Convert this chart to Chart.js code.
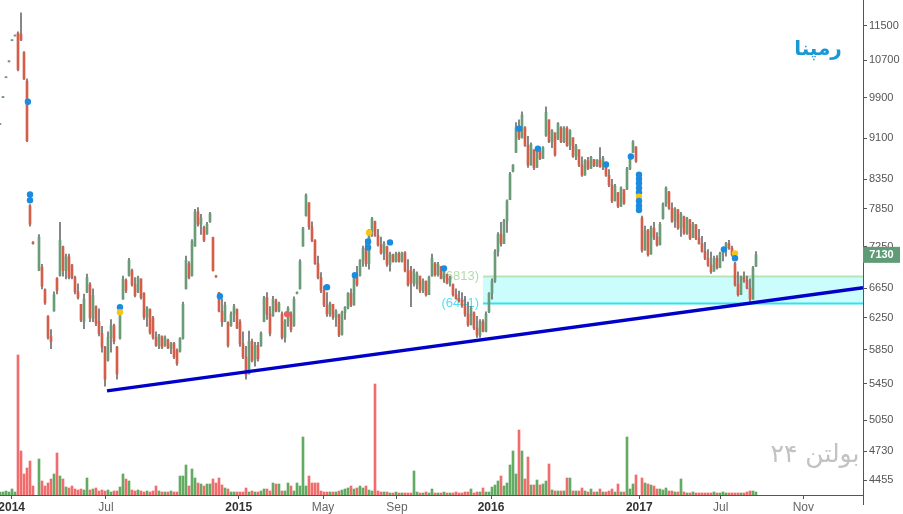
<!DOCTYPE html>
<html><head><meta charset="utf-8">
<script src="https://cdn.jsdelivr.net/npm/chart.js@4"></script>
<style>html,body{margin:0;padding:0;background:#fff;overflow:hidden}#wrap{width:903px;height:514px;position:relative}</style>
</head><body><div id="wrap"><canvas id="c" width="903" height="514"></canvas></div>
<script>
// ---- data (trading-day slot index, prices in rials) ----
const slots = [0,1,2,3,4,5,6,7,8,9,10,11,
13,14,15,16,17,18,19,20,21,22,23,24,25,26,27,28,29,30,31,32,33,34,35,36,37,38,39,40,41,42,43,44,45,46,47,48,49,50,51,52,
53,54,55,56,57,58,59,60,61,62,63,64,65,66,67,68,69,70,71,72,73,74,75,76,77,78,79,80,81,82,83,84,85,86,87,88,89,90,91,92,
93,94,95,96,97,98,99,100,101,102,103,104,105,106,107,108,109,110,111,112,113,114,115,116,117,118,119,120,121,122,
123,124,125,126,127,128,129,130,131,132,133,134,135,136,137,138,139,140,141,142,143,144,145,146,147,148,149,150,151,152,
153,154,155,156,157,158,159,160,161,162,163,164,165,166,167,168,169,170,171,172,173,174,175,176,177,178,179,180,181,182,
183,184,185,186,187,188,189,190,191,192,193,194,195,196,197,198,199,200,201,202,203,204,205,206,207,208,209,210,211,212,
214,215,216,217,218,219,220,221,222,223,224,225,226,227,228,229,230,231,232,233,234,235,236,237,238,239,240,241,242,243,
244,245,246,247,248,249,250,251,252];
const opens = [9360,9900,10320,10670,11150,11260,11330,11300,10880,10250,7900,7320,
6900,6950,6630,6270,6010,6340,6790,6830,7250,6900,
7100,6980,6800,6600,6430,6200,6600,6700,6250,6400,
6200,6050,5880,5720,6000,6150,5880,5990,6500,6760,
6830,6900,6700,6600,6780,6580,6260,6360,6250,6000,
5900,6010,5900,5970,5870,5930,5840,5830,5990,6640,
7000,6830,7260,7800,7600,7550,7450,7640,7390,6820,
6590,6340,6200,6190,6150,6300,6360,6200,5920,5760,
5560,5950,5720,5900,5900,6200,6520,6300,6280,6480,
6340,6300,6000,6200,6300,6150,6580,6640,7260,7740,
7950,7560,7350,7000,6800,6620,6420,6300,6430,6260,
6290,6040,6320,6380,6580,6420,6820,6830,7050,7230,
7000,7480,7640,7420,7280,7150,7250,6990,7130,7030,
7150,7040,7160,6900,6900,6720,6700,6820,6620,6750,
6560,6820,7000,6840,6960,6790,6840,6720,6700,6560,
6510,6480,6410,6300,6160,6320,6120,6030,6200,6080,
6330,6580,6750,7180,7440,7300,7650,8000,8490,8830,
9300,9100,9300,8960,8600,8880,8560,8860,8720,9150,
9450,9030,9200,9080,9300,9030,9290,8960,9100,8760,
8880,8600,8420,8680,8540,8700,8590,8690,8570,8640,
8420,8250,7980,8120,7890,8170,8180,8530,8830,8930,
7700,7200,7500,7140,7540,7400,7280,7690,7930,8130,
7860,7650,7830,7540,7720,7460,7670,7390,7590,7380,
7300,7180,7080,6980,6890,7080,6940,7150,7230,7300,
7230,7000,6700,6560,6800,6760,6650,6500,6960];
const highs = [9360,9900,10320,10670,11150,11260,11360,11820,10900,10300,7920,7330,
7440,6990,6640,6280,6100,6600,6800,7630,7260,7140,
7140,6990,6820,6710,6430,6570,6850,6730,6640,6410,
6370,6140,5890,6070,6230,6170,5890,6300,6820,6780,
7080,6920,6800,6820,6780,6590,6400,6370,6270,6070,
6040,6020,6020,5980,5940,5940,5860,6000,6460,7110,
7030,7360,7840,7870,7760,7570,7630,7790,7400,6830,
6590,6500,6460,6200,6330,6430,6370,6230,6070,5890,
6080,5980,5940,5940,6070,6540,6590,6400,6540,6500,
6460,6330,6230,6400,6330,6530,6600,7060,7550,8100,
7950,7640,7360,7110,6870,6680,6590,6460,6430,6360,
6300,6340,6400,6590,6640,6850,6960,7060,7260,7360,
7520,7710,7650,7520,7400,7330,7260,7170,7140,7170,
7170,7170,7180,7060,6960,6920,6880,6820,6780,6750,
6820,7140,7020,7020,6960,6920,6850,6820,6710,6640,
6610,6590,6540,6460,6400,6330,6270,6230,6230,6330,
6590,6780,7210,7470,7630,7680,8000,8470,8610,9400,
9450,9610,9320,9130,9010,8880,8880,8920,8940,9710,
9450,9260,9200,9400,9320,9320,9320,9260,9110,8980,
8880,8750,8700,8740,8760,8700,8700,8920,8760,8650,
8520,8350,8260,8120,8220,8170,8560,8760,9050,8940,
7730,7570,7520,7570,7630,7470,7630,7950,8220,8140,
7950,7870,7840,7790,7730,7710,7680,7630,7600,7520,
7410,7320,7210,7170,7110,7120,7170,7240,7320,7350,
7260,7020,6880,6820,6880,6820,6780,6960,7180];
const lows = [9360,9900,10320,10670,11150,11260,10470,11150,10280,9030,7570,7290,
6900,6640,6430,5980,5860,6340,6570,6820,6820,6780,
6780,6780,6570,6500,6200,6110,6590,6200,6200,6150,
6020,5820,5420,5710,5820,5920,5500,5980,6500,6590,
6820,6680,6530,6590,6500,6230,6140,6040,5980,5890,
5860,5860,5890,5860,5800,5740,5660,5820,5980,6640,
6780,6820,7260,7570,7440,7330,7440,7630,6890,6800,
6330,6140,6200,5880,6140,6200,6110,5890,5740,5500,
5560,5700,5650,5710,5890,6200,6230,6020,6270,6330,
6330,5980,5940,6140,6070,6140,6570,6640,7260,7730,
7520,7330,6990,6780,6590,6400,6270,6270,6230,6140,
6010,6030,6230,6370,6400,6420,6680,6820,6960,6960,
6920,7410,7410,7260,7140,7060,6960,6890,7020,7020,
7020,7020,6880,6680,6400,6680,6640,6590,6590,6540,
6560,6820,6820,6820,6780,6730,6710,6680,6540,6500,
6460,6390,6270,6140,6160,6100,6000,6000,6070,6070,
6320,6500,6730,7110,7260,7300,7470,8000,8480,8830,
9070,9100,8940,8560,8600,8520,8560,8700,8720,9130,
9010,8920,8760,9070,9010,9010,8940,8880,8740,8700,
8570,8400,8420,8520,8540,8570,8570,8560,8520,8400,
8220,7950,7980,7870,7890,7920,8170,8520,8830,8650,
7170,7200,7110,7140,7360,7260,7280,7680,7890,7840,
7630,7550,7520,7410,7440,7440,7360,7390,7360,7290,
7170,7060,6960,6860,6890,6920,6940,7040,7110,7210,
7110,6680,6540,6560,6730,6640,6470,6500,6960];
const closes = [9360,9900,10320,10670,11150,11260,10500,11170,10300,9050,7600,7300,
7400,6680,6450,6000,5950,6560,6620,7350,6900,7100,
6800,6800,6600,6520,6220,6500,6800,6250,6550,6180,
6050,5880,5500,6000,6150,5950,5560,6280,6780,6620,
7050,6700,6550,6800,6520,6260,6380,6060,6000,5900,
6030,5880,6000,5870,5920,5760,5680,5990,6430,7050,
6800,7330,7800,7600,7700,7350,7600,7770,6900,6810,
6340,6200,6420,5900,6300,6400,6120,5920,5760,5550,
5950,5720,5900,5740,6050,6520,6300,6050,6500,6340,
6440,6000,6200,6380,6100,6500,6590,7030,7540,8080,
7560,7350,7000,6800,6620,6420,6300,6440,6260,6340,
6030,6320,6390,6580,6420,6820,6700,7050,7230,7000,
7480,7690,7420,7280,7160,7300,6990,7140,7030,7150,
7030,7160,6900,6700,6720,6880,6850,6620,6750,6560,
6800,7080,6840,6990,6790,6900,6720,6800,6560,6510,
6480,6410,6300,6160,6380,6120,6030,6200,6080,6300,
6580,6750,7180,7440,7300,7650,7980,8440,8600,9300,
9100,9550,8960,8600,8980,8550,8860,8720,8920,9600,
9030,9240,8780,9380,9030,9290,8960,9240,8760,8950,
8600,8420,8680,8540,8740,8590,8690,8570,8730,8420,
8250,7980,8230,7890,8200,7940,8530,8740,9030,8670,
7200,7500,7130,7540,7400,7280,7600,7930,8200,7860,
7650,7850,7540,7760,7460,7690,7380,7600,7380,7300,
7180,7080,6980,6880,7080,6940,7150,7230,7300,7230,
7130,6700,6560,6800,6760,6650,6500,6940,7130];
// volume, millions of shares (estimated)
const volumes = [0.3,0.3,0.4,0.3,0.6,0.3,14.0,4.4,2.1,2.7,3.4,0.9,
3.6,1.4,0.9,1.2,1.6,2.1,4.2,1.9,1.6,0.8,
0.7,0.9,0.6,0.5,0.6,0.5,1.7,0.5,0.6,0.7,
0.4,0.5,0.4,0.5,0.3,0.4,0.4,0.8,2.1,1.6,
1.4,0.5,0.4,0.5,0.4,0.3,0.4,0.3,0.4,0.9,
0.4,0.3,0.3,0.3,0.4,0.3,0.3,1.9,1.9,3.0,
0.9,2.6,1.7,1.2,1.1,0.9,1.1,1.1,1.6,1.2,
1.7,1.0,0.7,0.6,0.3,0.3,0.3,0.3,0.3,0.7,
0.3,0.4,0.3,0.3,0.4,0.6,0.6,0.4,1.2,1.1,
1.1,0.4,0.4,1.2,0.9,0.4,1.2,0.9,5.8,0.9,
1.9,1.2,1.2,1.2,0.4,0.3,0.3,0.3,0.3,0.3,
0.4,0.5,0.6,0.7,0.9,0.6,0.7,0.9,0.7,0.9,
0.5,0.4,11.1,0.4,0.3,0.3,0.3,0.2,0.2,0.3,
0.2,0.2,0.2,0.2,0.2,2.4,0.3,0.2,0.2,0.3,
0.2,0.6,0.2,0.2,0.2,0.3,0.2,0.2,0.2,0.3,
0.2,0.2,0.3,0.3,0.6,0.2,0.3,0.3,0.7,0.3,
0.3,0.8,1.0,1.4,1.9,0.9,1.2,3.0,4.4,2.1,
6.5,4.4,1.6,3.8,1.0,1.0,1.5,1.0,1.1,1.4,
3.1,0.5,0.4,0.4,0.4,0.4,1.7,1.7,0.4,0.4,
0.4,0.7,0.4,0.3,0.6,0.3,0.3,0.6,0.3,0.3,
0.4,0.6,0.3,1.1,0.3,0.3,5.8,0.6,1.1,2.0,
1.7,1.2,1.1,1.0,0.9,0.6,0.6,0.5,0.7,0.4,
0.4,0.3,0.3,1.6,0.3,0.2,0.2,0.3,0.2,0.2,
0.2,0.2,0.2,0.2,0.3,0.2,0.2,0.3,0.2,0.2,
0.2,0.2,0.2,0.2,0.2,0.3,0.4,0.4,0.3];
// signal markers
const sigSlots = [9.3,10,10,40,40,73.3,95.7,109,118.3,122.7,122.7,123,130,148,173,179.3,202,210.3,
213,213,213,213,213,213,213,213,213,241.3,245,245];
const sigValues = [9816,8088,7990,6390,6325,6540,6300,6664,6832,7333,7242,7471,7318,6932,9280,8900,8610,8755,
8430,8355,8279,8200,8124,8050,7978,7900,7831,7212,7152,7079];
const sigKinds = ['b','b','b','b','y','b','r','b','b','b','b','y','b','b','b','b','b','b',
'b','b','b','b','b','y','b','b','b','b','y','b'];
// trend line and support zone
const trendSlots = [35.67, 287.67];
const trendValues = [5367, 6655];
const zoneStartSlot = 161;
const zoneTop = 6813, zoneBottom = 6441;
const lastPrice = 7130;
// axes
const priceTicks = [4455,4730,5050,5450,5850,6250,6650,7250,7850,8350,9100,9900,10700,11500];
const priceMin = 4318, priceMax = 12140;
const xMaxSlot = 287.67;
const tickSlots = [3.9,35.33,79.57,107.67,132.33,163.67,213.1,240.23,267.77];
const tickLabels = ['2014','Jul','2015','May','Sep','2016','2017','Jul','Nov'];
const volumeAxisMax = 49.5;
const titleText = 'رمپنا';
const watermarkText = 'بولتن ۲۴';

// ---- build ----
const isUp = slots.map((s,i)=>closes[i]>=opens[i]);
const wickData = slots.map((s,i)=>({x:s,y:[lows[i],highs[i]]}));
const bodyData = slots.map((s,i)=>({x:s,y:[Math.min(opens[i],closes[i]),Math.max(opens[i],closes[i])]}));
const volData = slots.map((s,i)=>({x:s,y:volumes[i]}));
const sigData = sigSlots.map((s,i)=>({x:s,y:sigValues[i]}));
const kindColor = {b:'#1b8be0',y:'#f5c518',r:'#e86060'};
const isYear = l => /^\d{4}$/.test(l);

const overlay = {
  id:'overlay',
  beforeDatasetsDraw(chart){
    const {ctx, chartArea:a, scales:{x,y}} = chart;
    const x0 = x.getPixelForValue(zoneStartSlot);
    const yT = y.getPixelForValue(zoneTop), yB = y.getPixelForValue(zoneBottom);
    ctx.save();
    ctx.fillStyle = '#ccfdfd';
    ctx.fillRect(x0, yT, a.right - x0, yB - yT);
    ctx.lineWidth = 2;
    ctx.strokeStyle = '#b7e3b7';
    ctx.beginPath(); ctx.moveTo(x0, yT); ctx.lineTo(a.right, yT); ctx.stroke();
    ctx.strokeStyle = '#2fe4f0';
    ctx.beginPath(); ctx.moveTo(x0, yB); ctx.lineTo(a.right, yB); ctx.stroke();
    ctx.font = '13px "Liberation Sans", Arial, sans-serif';
    ctx.textAlign = 'right'; ctx.textBaseline = 'middle';
    ctx.fillStyle = '#b5d9ad';
    ctx.fillText('(' + zoneTop + ')', x0 - 4, yT);
    ctx.fillStyle = '#4fe0f0';
    ctx.fillText('(' + zoneBottom + ')', x0 - 4, yB);
    ctx.restore();
  },
  afterDraw(chart){
    const {ctx, chartArea:a, scales:{y}} = chart;
    ctx.save();
    ctx.strokeStyle = '#555'; ctx.lineWidth = 1;
    ctx.beginPath(); ctx.moveTo(a.right + 0.5, a.bottom); ctx.lineTo(a.right + 0.5, a.bottom + 10); ctx.stroke();
    const yp = y.getPixelForValue(lastPrice);
    ctx.fillStyle = '#5e9b76';
    ctx.fillRect(a.right, yp - 8, 37, 16);
    ctx.fillStyle = '#ffffff';
    ctx.font = 'bold 11px "Liberation Sans", Arial, sans-serif';
    ctx.textAlign = 'center'; ctx.textBaseline = 'middle';
    ctx.fillText(String(lastPrice), a.right + 18.5, yp + 0.5);
    ctx.fillStyle = '#1a97d5';
    ctx.font = 'bold 20px "DejaVu Sans", sans-serif';
    ctx.fillText(titleText, a.right - 45, 50);
    ctx.fillStyle = '#c2c2c2';
    ctx.font = '25px "DejaVu Sans", sans-serif';
    ctx.fillText(watermarkText, a.right - 48, 455);
    ctx.restore();
  }
};

Chart.defaults.font.family = '"Liberation Sans", Arial, sans-serif';
new Chart(document.getElementById('c'), {
  type:'bar',
  data:{datasets:[
    {type:'scatter', data:sigData, yAxisID:'y', order:0,
     pointRadius:3.2, pointBorderWidth:0, pointBackgroundColor:sigKinds.map(k=>kindColor[k])},
    {type:'line', data:trendSlots.map((s,i)=>({x:s,y:trendValues[i]})), yAxisID:'y', order:1,
     borderColor:'#0000c8', borderWidth:3.5, pointRadius:0, tension:0},
    {type:'bar', data:bodyData, yAxisID:'y', order:2, grouped:false, barThickness:2, minBarLength:1,
     backgroundColor:isUp.map(u=>u?'#6a9c78':'#d45e4a')},
    {type:'bar', data:wickData, yAxisID:'y', order:3, grouped:false, barThickness:1, minBarLength:1,
     backgroundColor:'#6e6e6e'},
    {type:'bar', data:volData, yAxisID:'yv', order:4, grouped:false, barThickness:2,
     backgroundColor:isUp.map(u=>u?'rgba(60,150,60,0.8)':'rgba(238,72,72,0.8)')}
  ]},
  options:{
    responsive:false, animation:false, devicePixelRatio:1,
    layout:{padding:0, autoPadding:false},
    plugins:{legend:{display:false}, tooltip:{enabled:false}},
    scales:{
      x:{type:'linear', min:0, max:xMaxSlot, offset:false,
        grid:{display:true, offset:false, drawOnChartArea:false, drawTicks:true, tickLength:4, color:'#555'},
        border:{display:true, color:'#555', width:1},
        afterBuildTicks:s=>{s.ticks = tickSlots.map(v=>({value:v}));},
        ticks:{autoSkip:false, maxRotation:0, padding:1,
          callback:(v,i)=>tickLabels[i],
          font:c=>({size:12, weight: isYear(tickLabels[c.index]) ? 'bold':'normal'}),
          color:c=> isYear(tickLabels[c.index]) ? '#333':'#666'},
        afterFit:s=>{s.height=19; s.paddingLeft=0; s.paddingRight=0;}
      },
      y:{type:'logarithmic', position:'right', min:priceMin, max:priceMax,
        grid:{display:true, offset:false, drawOnChartArea:false, drawTicks:true, tickLength:4, color:'#555'},
        border:{display:true, color:'#555', width:1},
        afterBuildTicks:s=>{s.ticks = priceTicks.map(v=>({value:v}));},
        ticks:{autoSkip:false, padding:2, color:'#555', font:{size:11}, callback:v=>String(v)},
        afterFit:s=>{s.width=40; s.paddingTop=0; s.paddingBottom=0;}
      },
      yv:{type:'linear', min:0, max:volumeAxisMax, display:false}
    }
  },
  plugins:[overlay]
});
</script>
</body></html>
